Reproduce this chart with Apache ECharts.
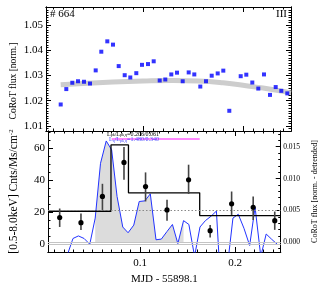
<!DOCTYPE html>
<html><head><meta charset="utf-8">
<script src="https://cdn.jsdelivr.net/npm/echarts@6/dist/echarts.min.js"></script>
<style>html,body{margin:0;padding:0;background:#fff}#c{width:327px;height:287px}</style>
</head><body><div id="c"></div>
<script>
// ---------- data ----------
const mjd = [0.0177,0.0233,0.0293,0.0350,0.0410,0.0470,0.0527,0.0583,0.0643,0.0700,0.0757,0.0817,0.0873,0.0933,0.0990,0.1050,0.1107,0.1167,0.1223,0.1283,0.1340,0.1397,0.1457,0.1513,0.1573,0.1630,0.1687,0.1747,0.1803,0.1863,0.1977,0.2033,0.2093,0.2153,0.2210,0.2270,0.2327,0.2383,0.2443];
const corotFlux = [1.0185,1.0246,1.0271,1.0277,1.0275,1.0268,1.0320,1.0394,1.0435,1.0422,1.0337,1.0301,1.0292,1.0309,1.0342,1.0345,1.0356,1.0280,1.0284,1.0304,1.0311,1.0277,1.0312,1.0304,1.0256,1.0277,1.0299,1.0308,1.0319,1.0160,1.0297,1.0303,1.0272,1.0248,1.0304,1.0223,1.0254,1.0239,1.0229];
const fitX = [0.0177,0.04,0.07,0.10,0.13,0.155,0.18,0.20,0.22,0.248];
const fitY = [1.0263,1.0268,1.0274,1.0278,1.0280,1.0278,1.0271,1.0261,1.0250,1.0231];
const detrended = [-0.008,-0.002,0.0006,0.0010,0.0006,-0.0003,0.0038,0.0124,0.0159,0.0145,0.0072,0.0024,0.0015,0.0027,0.0064,0.0065,0.0076,0.0004,0.0005,0.0017,0.0028,-0.0002,0.0034,0.0028,-0.0022,0.0024,0.0034,0.0041,0.0049,-0.011,0.0038,0.0044,0.0022,-0.0005,0.0055,-0.0022,0.0013,0.0005,-0.0003];
const shadeRange = [0.052, 0.146];
const xrayT = [0.0153,0.0377,0.0603,0.0830,0.1057,0.1283,0.1510,0.1737,0.1963,0.2190,0.2417];
const xrayRate = [16.7,13.5,29.8,51.0,36.0,21.4,40.2,8.5,25.2,23.1,14.7];
const xrayLo = [10.8,8.9,21.4,40.2,26.7,14.7,31.4,4.3,18.3,15.2,9.0];
const xrayHi = [22.3,19.2,37.7,60.6,44.8,27.7,49.6,12.1,32.9,29.8,20.4];
const blockEdges = [0.003,0.0693,0.0877,0.1627,0.248];
const blockRate = [20.6,61.9,32.1,17.9];
const quiescentLevel = 21.2;
const flareSpan = [0.070,0.1627];
const flareMarkLevel = 65.6;
const xMajor = [0.1,0.2];
const topYMajor = [1.01,1.02,1.03,1.04,1.05];
const botYMajor = [0,20,40,60];
const rightYMajor = [0,0.005,0.010,0.015];

// ---------- helpers ----------
const FONT = 'Liberation Serif';
function range(a,b,s){const r=[];for(let v=a;v<=b+1e-9;v+=s)r.push(+v.toFixed(6));return r;}
const xMinor = range(0.01,0.24,0.01);
const topYMinor = range(1.009,1.057,0.001);
const botYMinor = range(-5,70,5);
const rightYMinor = range(-0.001,0.017,0.001);
const XMIN=0.003, XMAX=0.248;
const base = {axisLine:{onZero:false,lineStyle:{color:'#000',width:1}},splitLine:{show:false}};
function xa(grid,pos,ticks,len,labels){
  return Object.assign({},base,{type:'value',gridIndex:grid,position:pos,min:XMIN,max:XMAX,
    axisTick:{show:true,inside:true,length:len,customValues:ticks,lineStyle:{color:'#000'}},
    axisLabel:labels?{show:true,customValues:labels,fontFamily:FONT,fontSize:11,color:'#000',margin:6,formatter:v=>v.toFixed(1)}:{show:false}});
}
function ya(grid,pos,min,max,ticks,len,labels,fmt,fs,margin){
  return Object.assign({},base,{type:'value',gridIndex:grid,position:pos,min:min,max:max,
    axisTick:{show:true,inside:true,length:len,customValues:ticks,lineStyle:{color:'#000'}},
    axisLabel:labels?{show:true,customValues:labels,fontFamily:FONT,fontSize:fs,color:'#000',margin:margin,formatter:fmt}:{show:false}});
}
const xAxis = [
  xa(0,'bottom',xMajor,5,null), xa(0,'bottom',xMinor,2.5,null),
  xa(0,'top',xMajor,5,null), xa(0,'top',xMinor,2.5,null),
  xa(1,'bottom',xMajor,5,xMajor), xa(1,'bottom',xMinor,2.5,null),
  xa(1,'top',xMajor,5,null), xa(1,'top',xMinor,2.5,null)
];
xAxis[4].name='MJD - 55898.1';xAxis[4].nameLocation='middle';xAxis[4].nameGap=22;
xAxis[4].nameTextStyle={fontFamily:FONT,fontSize:11,color:'#000'};
const TMIN=1.008,TMAX=1.0571,LMIN=-4.8,LMAX=70.6,RMIN=-0.00152,RMAX=0.01746;
const yAxis = [
  ya(0,'left',TMIN,TMAX,topYMajor,5,topYMajor,v=>v.toFixed(2),11,3),
  ya(0,'left',TMIN,TMAX,topYMinor,2.5,null),
  ya(0,'right',TMIN,TMAX,topYMajor,5,null),
  ya(0,'right',TMIN,TMAX,topYMinor,2.5,null),
  ya(1,'left',LMIN,LMAX,botYMajor,5,botYMajor,v=>String(v),11,3),
  ya(1,'left',LMIN,LMAX,botYMinor,2.5,null),
  ya(1,'right',RMIN,RMAX,rightYMajor,5,rightYMajor,v=>v.toFixed(3),7.5,2.5),
  ya(1,'right',RMIN,RMAX,rightYMinor,2.5,null)
];
yAxis[4].name='[0.5-8.0keV] Cnts/Ms/cm{s|-2}';yAxis[4].nameLocation='middle';yAxis[4].nameGap=28;
yAxis[4].nameTextStyle={fontFamily:FONT,fontSize:11.5,color:'#000',rich:{s:{fontFamily:FONT,fontSize:7,verticalAlign:'top',color:'#000'}}};
yAxis[6].name='CoRoT flux [norm. - detrended]';yAxis[6].nameLocation='middle';yAxis[6].nameGap=23;
yAxis[6].nameTextStyle={fontFamily:FONT,fontSize:8,color:'#000'};

const topPts = mjd.map((x,i)=>[x,corotFlux[i]]);
const fitPts = fitX.map((x,i)=>[x,fitY[i]]);
const detPts = mjd.map((x,i)=>[x,detrended[i]]);
const shadePts = mjd.map((x,i)=>(x>=shadeRange[0]&&x<=shadeRange[1])?[x,detrended[i]]:null).filter(p=>p);
const stepPts=[];
blockRate.forEach((v,i)=>{stepPts.push([blockEdges[i],v]);stepPts.push([blockEdges[i+1],v]);});
const errData = xrayT.map((t,i)=>[t,xrayRate[i],xrayLo[i],xrayHi[i]]);

const option = {
  animation:false,
  grid:[{left:46,top:7,width:245,height:124},{left:46,top:131,width:245,height:121}],
  xAxis:xAxis, yAxis:yAxis,
  series:[
    {type:'line',xAxisIndex:0,yAxisIndex:0,data:fitPts,smooth:true,symbol:'none',lineStyle:{color:'#cdcdcd',width:5},z:1},
    {type:'scatter',xAxisIndex:0,yAxisIndex:0,data:topPts,symbol:'rect',symbolSize:4,itemStyle:{color:'#0000ff'},z:3},
    {type:'line',xAxisIndex:4,yAxisIndex:6,data:shadePts,symbol:'none',lineStyle:{width:0},areaStyle:{color:'#dcdcdc',opacity:1},z:1,
      markLine:{silent:true,symbol:'none',label:{show:false},lineStyle:{color:'#c4c4c4',width:1,type:'solid'},data:[{yAxis:0}]}},
    {type:'line',xAxisIndex:4,yAxisIndex:4,data:[],symbol:'none',
      markLine:{silent:true,symbol:'none',label:{show:false},data:[
        {yAxis:0,lineStyle:{color:'#c4c4c4',width:1,type:'solid'}},
        {yAxis:quiescentLevel,lineStyle:{color:'#888',width:1,type:[1.5,2]}}]}},
    {type:'line',xAxisIndex:4,yAxisIndex:6,data:detPts,symbol:'none',lineStyle:{color:'#2233ff',width:1},z:3},
    {type:'line',xAxisIndex:4,yAxisIndex:4,data:stepPts,symbol:'none',lineStyle:{color:'#000',width:1.3},z:4},
    {type:'line',xAxisIndex:4,yAxisIndex:4,data:flareSpan.map(x=>[x,flareMarkLevel]),symbol:'none',lineStyle:{color:'#ff88ff',width:2},z:4},
    {type:'custom',xAxisIndex:4,yAxisIndex:4,data:errData,encode:{x:0,y:[1,2,3]},z:5,
      renderItem:function(params,api){
        const p=api.coord([api.value(0),api.value(1)]);
        const lo=api.coord([api.value(0),api.value(2)]);
        const hi=api.coord([api.value(0),api.value(3)]);
        return {type:'group',children:[
          {type:'line',shape:{x1:lo[0],y1:lo[1],x2:hi[0],y2:hi[1]},style:{stroke:'#444',lineWidth:1.6}},
          {type:'circle',shape:{cx:p[0],cy:p[1],r:2.6},style:{fill:'#000'}}
        ]};
      }}
  ],
  graphic:[
    {type:'text',x:13,y:81,rotation:Math.PI/2,style:{text:'CoRoT flux [norm.]',fontFamily:FONT,fontSize:9.5,fill:'#000',align:'center',verticalAlign:'middle'}},
    {type:'text',left:50,top:9,style:{text:'# 664',fontFamily:FONT,fontSize:11,fill:'#000'}},
    {type:'text',left:276,top:9,style:{text:'III',fontFamily:FONT,fontSize:11,fill:'#000'}},
    {type:'text',left:107,top:131,z:10,style:{text:'{n|L}{s|pk}{n|/L}{s|pk,q}{n|=0.206/0.061}',fill:'#000',
      rich:{n:{fontFamily:FONT,fontSize:6,fill:'#000'},s:{fontFamily:FONT,fontSize:4,fill:'#000',verticalAlign:'bottom'}}}},
    {type:'text',left:109,top:136.5,z:10,style:{text:'{n|L}{s|q}{n|/L}{s|pk,q}{n|=1.480/0.340}',
      rich:{n:{fontFamily:FONT,fontSize:6,fill:'#4444ff'},s:{fontFamily:FONT,fontSize:4,fill:'#4444ff',verticalAlign:'bottom'}}}}
  ]
};
echarts.init(document.getElementById('c')).setOption(option);
</script></body></html>
